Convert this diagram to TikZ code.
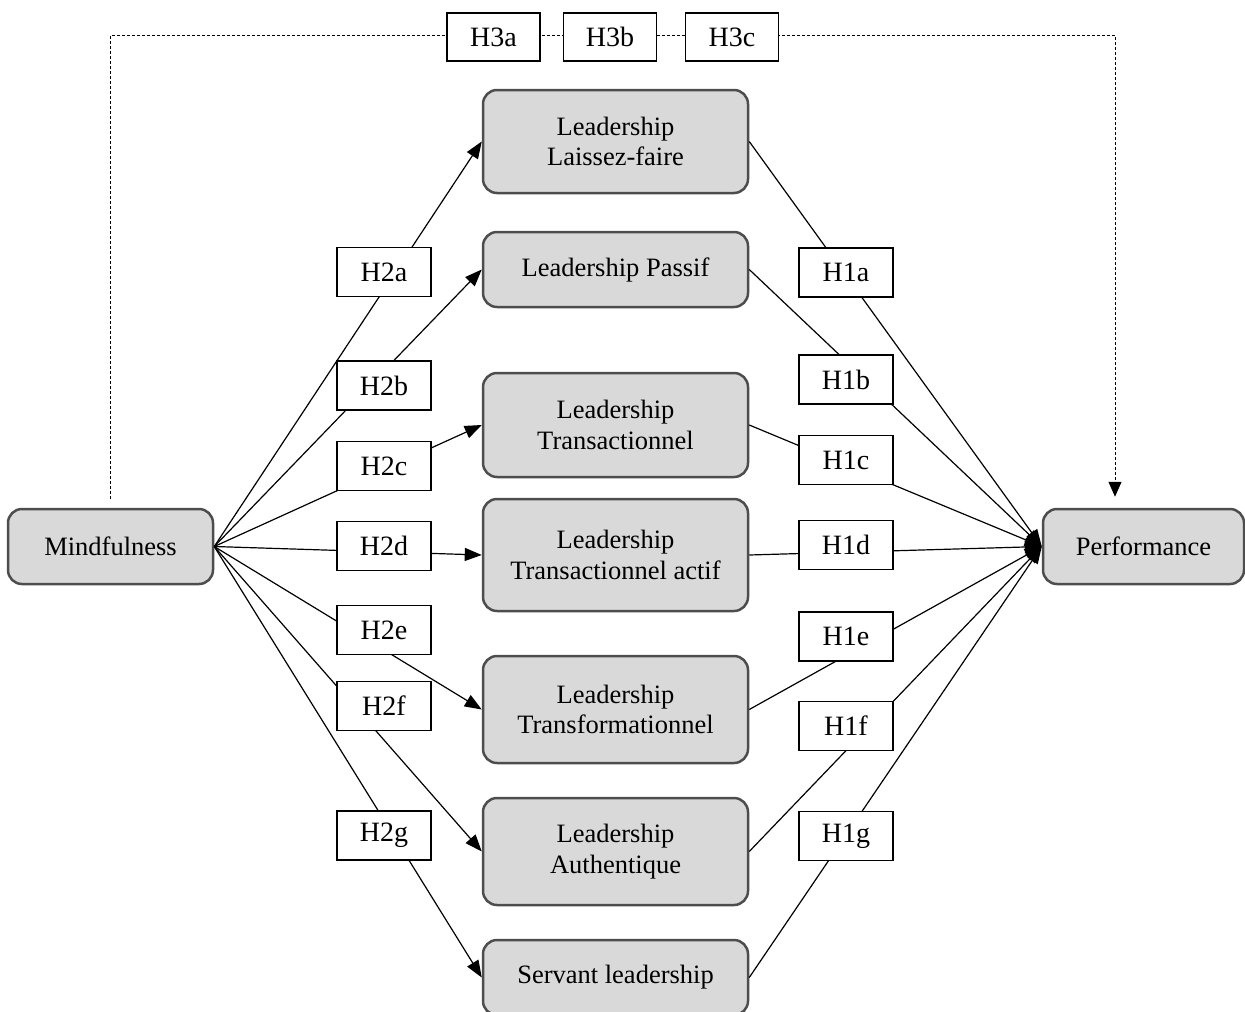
\documentclass[tikz,border=0pt]{standalone}
\usepackage{fontspec}
\setmainfont{Liberation Serif}
\usetikzlibrary{arrows.meta}
\definecolor{boxfill}{HTML}{D9D9D9}
\definecolor{boxdraw}{HTML}{4D4D4D}
\begin{document}
\begin{tikzpicture}[x=1pt,y=-1pt,
  every node/.style={font=\fontsize{26.5}{30.5}\selectfont, inner sep=0pt, align=center},
  leadbox/.style={draw=boxdraw, fill=boxfill, line width=2.5pt, rounded corners=14pt, minimum width=265pt},
  endbox/.style={draw=boxdraw, fill=boxfill, line width=2.5pt, rounded corners=14pt, minimum height=75pt},
  hbox/.style={draw=black, fill=white, line width=1.2pt, minimum width=94pt, minimum height=49pt, font=\fontsize{28}{32}\selectfont},
  conn/.style={line width=1.2pt, -{Triangle[length=17pt,width=13pt]}},
  dashline/.style={line width=1pt, dash pattern=on 3pt off 2pt, -{Triangle[length=15pt,width=13pt]}}
]
\useasboundingbox (0,0) rectangle (1245,1012);
\clip (0,0) rectangle (1245,1012);

% main boxes
\node[endbox, minimum width=205pt] (mind) at (110.5,546.5) {Mindfulness};
\node[endbox, minimum width=201pt] (perf) at (1143.5,546.5) {Performance};

\node[leadbox, minimum height=103pt] (lf)  at (615.5,141.5) {Leadership\\Laissez-faire};
\node[leadbox, minimum height=75pt]  (lp)  at (615.5,269.5) {Leadership Passif};
\node[leadbox, minimum height=104pt] (lt)  at (615.5,425)   {Leadership\\Transactionnel};
\node[leadbox, minimum height=112pt] (la)  at (615.5,555)   {Leadership\\Transactionnel actif};
\node[leadbox, minimum height=107pt] (ltf) at (615.5,709.5) {Leadership\\Transformationnel};
\node[leadbox, minimum height=107pt] (lau) at (615.5,851.5) {Leadership\\Authentique};
\node[leadbox, minimum height=75pt]  (ls)  at (615.5,977.5) {Servant leadership};

% dashed H3 path
\coordinate (dtr) at (1115,35);
\draw[dashline, shorten <=9pt, shorten >=11pt] (mind.north) |- (dtr) -- (perf.north -| dtr);

% connectors Mindfulness -> leadership -> Performance
\foreach \t in {lf,lp,lt,la,ltf,lau,ls}{
  \draw[conn] (mind.east) -- (\t.west);
  \draw[conn] (\t.east) -- (perf.west);
}

% H3 labels
\node[hbox, minimum width=93pt, minimum height=48pt] (h3a) at (493.5,37) {H3a};
\node[hbox, minimum width=93pt, minimum height=48pt] (h3b) at (610,37)   {H3b};
\node[hbox, minimum width=93pt, minimum height=48pt] (h3c) at (732,37)   {H3c};

% H2 labels
\node[hbox] (h2a) at (384,272)   {H2a};
\node[hbox] (h2b) at (384,385.5) {H2b};
\node[hbox] (h2c) at (384,466)   {H2c};
\node[hbox] (h2d) at (384,546)   {H2d};
\node[hbox] (h2e) at (384,630)   {H2e};
\node[hbox] (h2f) at (384,706)   {H2f};
\node[hbox] (h2g) at (384,835.5) {H2g};

% H1 labels
\node[hbox] (h1a) at (846,272.5) {H1a};
\node[hbox] (h1b) at (846,379.5) {H1b};
\node[hbox] (h1c) at (846,460)   {H1c};
\node[hbox] (h1d) at (846,545)   {H1d};
\node[hbox] (h1e) at (846,636.5) {H1e};
\node[hbox] (h1f) at (846,726)   {H1f};
\node[hbox] (h1g) at (846,836)   {H1g};
\end{tikzpicture}
\end{document}
